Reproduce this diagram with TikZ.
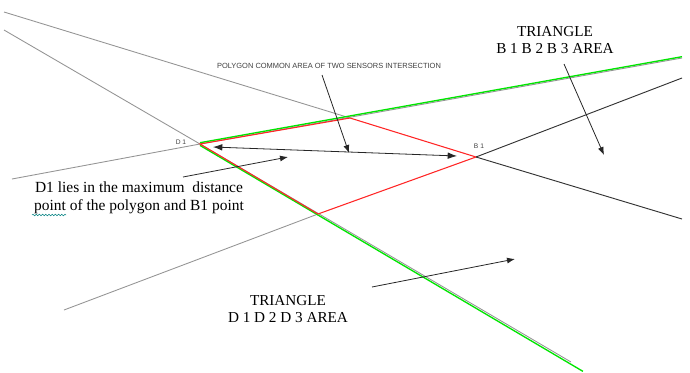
\documentclass[tikz,border=0pt]{standalone}
\usepackage{fontspec}
\setmainfont{Liberation Serif}
\newfontfamily\smallsans{Liberation Sans}
\usetikzlibrary{positioning, calc, arrows.meta, decorations.pathmorphing}

\begin{document}
\begin{tikzpicture}[x=0.75pt, y=-0.75pt,
    ray/.style = {draw=black!42, line width=0.65pt},
    darkray/.style = {draw=black!80, line width=0.7pt},
    greenray/.style = {draw=green!90!black, line width=1pt},
    polyedge/.style = {draw=red!85, line width=0.8pt},
    pointer/.style = {draw=black!85, line width=0.6pt, -{Latex[length=6pt, width=4.5pt]}},
    caption/.style = {font=\fontsize{11.4}{12.8}\selectfont, align=center, inner sep=0pt},
    tag/.style = {font=\smallsans\fontsize{5}{6}\selectfont, text=black!75, inner sep=0pt}]
    \useasboundingbox (0,0) rectangle (690,372);

    % Ecken des Polygons
    \coordinate (D1) at (200,144);
    \coordinate (Ptop) at (350,118);
    \coordinate (B1) at (476,157);
    \coordinate (Pbot) at (318,214);

    % Enden der Strahlen
    \coordinate (rayA) at (4,12);
    \coordinate (rayAend) at (682,219);
    \coordinate (rayB) at (4,30);
    \coordinate (rayBend) at (571,362);
    \coordinate (rayBgreen) at (583,370);
    \coordinate (rayC) at (12,179);
    \coordinate (rayCend) at (682,58);
    \coordinate (rayD) at (64,310);
    \coordinate (rayDend) at (682,78);

    % graue Strahlen
    \draw[ray] (rayA) -- (Ptop);
    \draw[ray] (rayB) -- (D1) -- (rayBend);
    \draw[ray] (rayC) -- (D1) -- (rayCend);
    \draw[ray] (rayD) -- (Pbot);

    % gruene Strahlen, etwas neben dem Polygon
    \draw[greenray] ($(D1)+(0,-1.3)$) -- ($(rayCend)+(0,-1.3)$);
    \draw[greenray] ($(D1)+(0,1.4)$) -- ($(rayBgreen)+(0,1.4)$);

    % Polygon
    \draw[polyedge] (D1) -- (Ptop) -- (B1) -- (Pbot) -- cycle;

    % schwarze Strahlen hinter B1
    \draw[darkray] (B1) -- (rayAend);
    \draw[darkray] (B1) -- (rayDend);

    % Beschriftungen
    \node[tag] (labD1) at (181,142) {D 1};
    \node[tag] (labB1) at (479,146) {B 1};
    \node[tag, font=\smallsans\fontsize{5.6}{6}\selectfont] (labPoly) at (329,66)
        {POLYGON COMMON AREA OF TWO SENSORS INTERSECTION};
    \node[caption] (labBtri) at (555,40.5) {TRIANGLE\\B 1 B 2 B 3 AREA};
    \node[caption] (labDtri) at (288,309.5) {TRIANGLE\\D 1 D 2 D 3 AREA};
    \node[caption, font=\fontsize{11.6}{13.5}\selectfont] (labNote) at (139,198)
        {D1 lies in the maximum\ \ distance\\point of the polygon and B1 point};
    \draw[teal, line width=0.4pt, decorate,
        decoration={snake, amplitude=0.6pt, segment length=2.4pt}] (32,215) -- (66,215);

    % Pfeile
    \coordinate (spanL) at (213,147);
    \coordinate (spanR) at (457,156);
    \draw[pointer, {Latex[length=7pt, width=5pt]}-{Latex[length=7pt, width=5pt]}] (spanL) -- (spanR);
    \coordinate (polyFrom) at (322,75);
    \coordinate (polyTo) at (349,153);
    \draw[pointer] (polyFrom) -- (polyTo);
    \coordinate (noteFrom) at (183,177);
    \coordinate (noteTo) at (288,157);
    \draw[pointer] (noteFrom) -- (noteTo);
    \coordinate (btriFrom) at (564,64);
    \coordinate (btriTo) at (604,155);
    \draw[pointer] (btriFrom) -- (btriTo);
    \coordinate (dtriFrom) at (372,287);
    \coordinate (dtriTo) at (515,259);
    \draw[pointer] (dtriFrom) -- (dtriTo);
\end{tikzpicture}
\end{document}
